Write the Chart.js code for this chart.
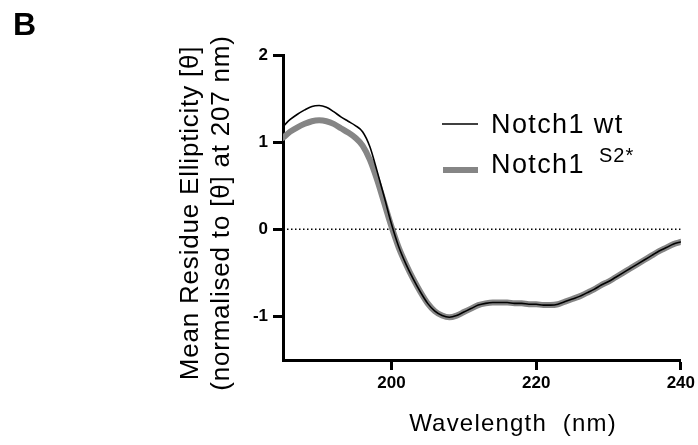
<!DOCTYPE html>
<html>
<head>
<meta charset="utf-8">
<script src="https://cdn.jsdelivr.net/npm/chart.js@4/dist/chart.umd.min.js"></script>
<style>
  html, body { margin: 0; padding: 0; background: #fff; }
  #wrap { position: relative; width: 698px; height: 445px; }
</style>
</head>
<body>
<div id="wrap"><canvas id="c" width="698" height="445"></canvas></div>
<script>
// ---- Data ----
const wavelengths = [185,186,187,188,189,190,191,192,193,194,195,196,197,198,199,200,
  201,202,203,204,205,206,207,208,209,210,211,212,213,214,215,216,217,218,219,220,
  221,222,223,224,225,226,227,228,229,230,231,232,233,234,235,236,237,238,239,240];
const wtValues = [1.18,1.26,1.32,1.37,1.41,1.42,1.40,1.35,1.29,1.24,1.19,1.12,0.95,0.67,0.37,0.06,
  -0.20,-0.40,-0.57,-0.72,-0.85,-0.94,-0.99,-1.01,-0.99,-0.95,-0.91,-0.87,-0.85,-0.84,-0.84,-0.84,-0.85,-0.85,-0.86,-0.86,
  -0.87,-0.87,-0.86,-0.83,-0.80,-0.77,-0.73,-0.69,-0.64,-0.60,-0.55,-0.50,-0.45,-0.40,-0.35,-0.30,-0.25,-0.21,-0.17,-0.145];
const s2Values = [1.05,1.12,1.17,1.21,1.24,1.25,1.24,1.21,1.16,1.11,1.05,0.96,0.80,0.57,0.30,0.03,
  -0.21,-0.40,-0.57,-0.72,-0.85,-0.94,-0.99,-1.01,-0.99,-0.95,-0.91,-0.87,-0.85,-0.84,-0.84,-0.84,-0.85,-0.85,-0.86,-0.86,
  -0.87,-0.87,-0.86,-0.83,-0.80,-0.77,-0.73,-0.69,-0.64,-0.60,-0.55,-0.50,-0.45,-0.40,-0.35,-0.30,-0.25,-0.21,-0.17,-0.145];
const zeroLineX = [185, 240];
const zeroLineY = [0, 0];
const xTicks = [200, 220, 240];
const yTicks = [-1, 0, 1, 2];
const seriesNames = ['Notch1 wt', 'Notch1', 'S2*'];
const panelLabel = 'B';
const yTitleLines = ['Mean Residue Ellipticity [\u03B8]', '(normalised to [\u03B8] at 207 nm)'];
const xTitle = 'Wavelength  (nm)';

const FONT = '"Liberation Sans", Arial, Helvetica, sans-serif';
const GREY = '#858585';

const textPlugin = {
  id: 'texts',
  afterDraw(chart) {
    const ctx = chart.ctx;
    ctx.save();
    ctx.fillStyle = '#000';
    // panel label
    ctx.font = 'bold 32px ' + FONT;
    ctx.textAlign = 'left';
    ctx.textBaseline = 'alphabetic';
    ctx.fillText(panelLabel, 13, 35);

    // y title
    ctx.save();
    ctx.translate(0, 213);
    ctx.rotate(-Math.PI / 2);
    ctx.textAlign = 'center';
    ctx.font = '26px ' + FONT;
    ctx.letterSpacing = '0.8px';
    ctx.fillText(yTitleLines[0], 0, 198);
    ctx.fillText(yTitleLines[1], 0, 229);
    ctx.restore();

    // x title
    ctx.font = '24px ' + FONT;
    ctx.letterSpacing = '1.2px';
    ctx.textAlign = 'center';
    ctx.fillText(xTitle, 513, 431);

    // legend
    ctx.textAlign = 'left';
    ctx.strokeStyle = '#000';
    ctx.lineWidth = 1.5;
    ctx.beginPath(); ctx.moveTo(442, 124); ctx.lineTo(478, 124); ctx.stroke();
    ctx.strokeStyle = GREY;
    ctx.lineWidth = 6;
    ctx.beginPath(); ctx.moveTo(443, 170); ctx.lineTo(478, 170); ctx.stroke();
    ctx.font = '27px ' + FONT;
    ctx.letterSpacing = '1.4px';
    ctx.fillText(seriesNames[0], 491, 133);
    ctx.fillText(seriesNames[1], 491, 173);
    const w = ctx.measureText(seriesNames[1]).width;
    ctx.font = '20px ' + FONT;
    ctx.letterSpacing = '1px';
    ctx.fillText(seriesNames[2], 491 + w + 14, 162);
    ctx.restore();
  }
};

const toPts = (xs, ys) => xs.map((x, i) => ({ x: x, y: ys[i] }));

new Chart(document.getElementById('c'), {
  type: 'line',
  data: {
    datasets: [
      { label: seriesNames[0], data: toPts(wavelengths, wtValues), borderColor: '#000', borderWidth: 1.6,
        pointRadius: 0, cubicInterpolationMode: 'monotone', order: 0, borderCapStyle: 'round', borderJoinStyle: 'round' },
      { label: seriesNames[1] + ' ' + seriesNames[2], data: toPts(wavelengths, s2Values), borderColor: GREY, borderWidth: 6,
        pointRadius: 0, cubicInterpolationMode: 'monotone', order: 1, borderCapStyle: 'round', borderJoinStyle: 'round' },
      { label: 'zero', data: toPts(zeroLineX, zeroLineY), borderColor: '#000', borderWidth: 1.5,
        borderDash: [1.5, 2.5], pointRadius: 0, order: 2 }
    ]
  },
  options: {
    responsive: false,
    animation: false,
    events: [],
    layout: { padding: { left: 0, top: 55, right: 17, bottom: 0 } },
    plugins: { legend: { display: false }, tooltip: { enabled: false } },
    scales: {
      x: {
        type: 'linear', min: 185, max: 240,
        afterBuildTicks: s => { s.ticks = xTicks.map(v => ({ value: v })); },
        afterFit: s => { s.height = 85; },
        grid: { display: true, drawOnChartArea: false, drawTicks: true, tickLength: 10, tickWidth: 3, tickColor: '#000' },
        border: { display: true, width: 3, color: '#000' },
        ticks: { color: '#000', padding: 3, maxRotation: 0, font: { family: FONT, size: 17, weight: 'bold' } }
      },
      y: {
        type: 'linear', min: -1.5, max: 2,
        afterBuildTicks: s => { s.ticks = yTicks.map(v => ({ value: v })); },
        afterFit: s => { s.width = 283; },
        grid: { display: true, drawOnChartArea: false, drawTicks: true, tickLength: 10, tickWidth: 3, tickColor: '#000' },
        border: { display: true, width: 3, color: '#000' },
        ticks: { color: '#000', padding: 5, font: { family: FONT, size: 17, weight: 'bold' } }
      }
    }
  },
  plugins: [textPlugin]
});
</script>
</body>
</html>
